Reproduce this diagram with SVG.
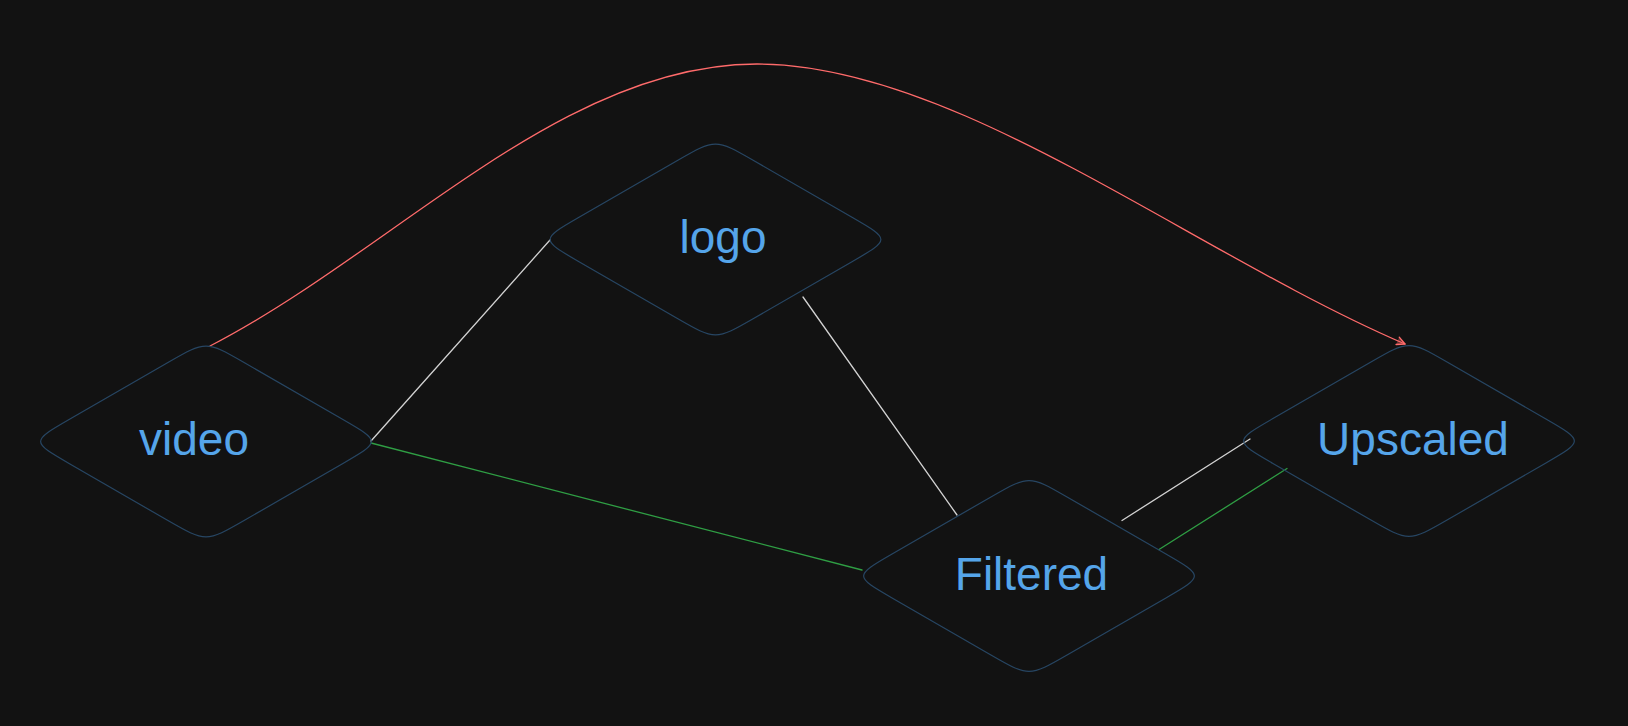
<svg xmlns="http://www.w3.org/2000/svg" width="1628" height="726" viewBox="0 0 1628 726">
  <style>
    .shape { fill: none; stroke: #274663; stroke-width: 1.2; }
    .label { font-family: "Liberation Sans", "Open Sans", sans-serif; font-size: 46px; fill: #55a5ea; text-anchor: middle; }
    .edge { fill: none; stroke-width: 1.3; stroke-linecap: round; }
    .white { stroke: #d2d2d2; }
    .green { stroke: #2f9e44; }
    .red { stroke: #ff6b6b; }
  </style>
  <defs>
    <path id="diamond" d="M 38.5,-78.8 L 136.5,-22.2 C 175,0 175,0 136.5,22.2 L 38.5,78.8 C 0,101 0,101 -38.5,78.8 L -136.5,22.2 C -175,0 -175,0 -136.5,-22.2 L -38.5,-78.8 C 0,-101 0,-101 38.5,-78.8 Z"/>
    <marker id="arrow" markerUnits="userSpaceOnUse" markerWidth="20" markerHeight="20" refX="10" refY="10" orient="auto" overflow="visible">
      <path d="M 2,6 L 10,10 L 2,14" fill="#ff6b6b" fill-opacity="0.35" stroke="#ff6b6b" stroke-width="1.4" stroke-linecap="round" stroke-linejoin="round"/>
    </marker>
  </defs>
  <rect x="0" y="0" width="1628" height="726" fill="#121212"/>

  <g id="connectors">
    <line class="edge white" x1="371" y1="441" x2="550" y2="240"/>
    <line class="edge white" x1="803" y1="297" x2="957" y2="515"/>
    <line class="edge green" x1="371" y1="443" x2="862" y2="570"/>
    <line class="edge white" x1="1122" y1="520.5" x2="1250" y2="439"/>
    <line class="edge green" x1="1159" y1="549.5" x2="1287" y2="468.5"/>
    <path class="edge red" d="M 210,346 C 394,251 561,64 757,64 C 956,64 1189,251 1405,344" marker-end="url(#arrow)"/>
  </g>

  <g id="node-video">
    <use href="#diamond" class="shape" transform="translate(206,441.5)"/>
    <text class="label" x="194" y="455">video</text>
  </g>
  <g id="node-logo">
    <use href="#diamond" class="shape" transform="translate(715.5,239.5)"/>
    <text class="label" x="723" y="253">logo</text>
  </g>
  <g id="node-filtered">
    <use href="#diamond" class="shape" transform="translate(1029,576)"/>
    <text class="label" x="1031.5" y="590">Filtered</text>
  </g>
  <g id="node-upscaled">
    <use href="#diamond" class="shape" transform="translate(1409,441)"/>
    <text class="label" x="1413" y="455">Upscaled</text>
  </g>
</svg>
